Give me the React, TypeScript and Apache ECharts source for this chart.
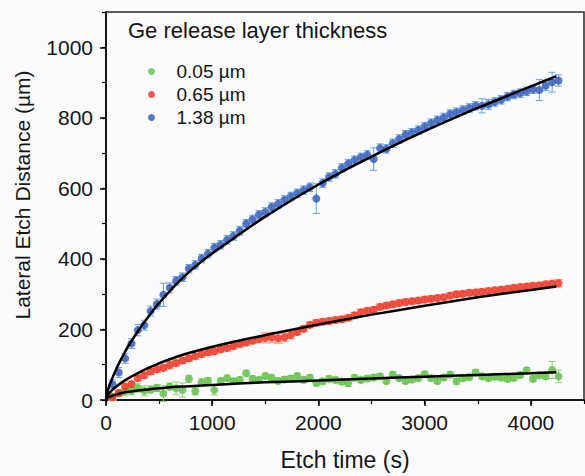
import React, { useEffect, useRef } from "react";
import * as echarts from "echarts";

const times = [
  60, 120, 180, 240, 300, 360, 420, 480, 540, 600,
  660, 720, 780, 840, 900, 960, 1020, 1080, 1140, 1200,
  1260, 1320, 1380, 1440, 1500, 1560, 1620, 1680, 1740, 1800,
  1860, 1920, 1980, 2040, 2100, 2160, 2220, 2280, 2340, 2400,
  2460, 2520, 2580, 2640, 2700, 2760, 2820, 2880, 2940, 3000,
  3060, 3120, 3180, 3240, 3300, 3360, 3420, 3480, 3540, 3600,
  3660, 3720, 3780, 3840, 3900, 3960, 4020, 4080, 4140, 4200,
  4260,
];

const blue = [
  45, 78, 118, 160, 198, 212, 252, 272, 298, 318,
  338, 348, 372, 383, 401, 415, 432, 440, 454, 465,
  480, 500, 512, 525, 533, 547, 556, 567, 577, 586,
  595, 603, 571, 615, 632, 641, 658, 670, 680, 688,
  695, 683, 714, 712, 728, 740, 752, 758, 765, 775,
  785, 793, 801, 811, 816, 822, 828, 834, 834, 838,
  845, 851, 860, 866, 870, 875, 881, 879, 891, 901,
  906,
];
const blueErr = [
  12, 14, 14, 14, 16, 14, 14, 14, 33, 14,
  12, 12, 12, 12, 12, 12, 12, 12, 12, 12,
  12, 12, 12, 12, 12, 12, 12, 12, 12, 12,
  12, 12, 42, 12, 12, 12, 12, 12, 12, 12,
  12, 32, 12, 12, 12, 12, 12, 12, 12, 12,
  12, 12, 12, 12, 12, 12, 12, 12, 20, 14,
  12, 12, 12, 12, 12, 12, 12, 30, 14, 28,
  16,
];

const red = [
  8, 20, 38, 45, 62, 70, 81, 87, 91, 99,
  105, 112, 118, 124, 130, 135, 138, 144, 147, 153,
  159, 163, 168, 172, 176, 177, 175, 178, 184, 193,
  202, 213, 219, 222, 224, 227, 229, 233, 240, 249,
  253, 256, 264, 268, 271, 275, 278, 280, 282, 285,
  287, 289, 291, 296, 300, 301, 304, 305, 307, 309,
  311, 313, 315, 318, 320, 322, 324, 325, 328, 330,
  331,
];
const redErr = [
  8, 8, 8, 8, 8, 8, 8, 8, 8, 10,
  8, 8, 8, 8, 8, 8, 8, 8, 8, 8,
  8, 8, 8, 8, 14, 14, 14, 12, 10, 8,
  8, 8, 8, 8, 8, 8, 8, 8, 8, 8,
  8, 8, 8, 8, 8, 8, 8, 8, 8, 8,
  8, 8, 8, 8, 8, 8, 8, 8, 8, 8,
  8, 8, 8, 8, 8, 8, 8, 8, 8, 8,
  10,
];

const green = [
  10, 18, 24, 27, 34, 26, 30, 34, 18, 38,
  33, 28, 60, 25, 50, 54, 28, 54, 62, 53,
  57, 76, 60, 57, 68, 63, 54, 58, 61, 68,
  57, 63, 48, 53, 60, 57, 52, 48, 63, 57,
  61, 64, 67, 54, 72, 62, 54, 58, 62, 73,
  62, 54, 64, 72, 53, 62, 65, 78, 67, 62,
  66, 64, 60, 63, 71, 84, 60, 70, 67, 85,
  67,
];
const greenErr = [
  6, 8, 10, 12, 12, 14, 10, 10, 22, 10,
  18, 20, 10, 10, 10, 10, 14, 8, 8, 8,
  8, 8, 8, 8, 8, 8, 8, 8, 8, 8,
  8, 8, 8, 8, 8, 8, 8, 10, 8, 8,
  8, 8, 8, 8, 8, 8, 8, 8, 8, 8,
  8, 8, 8, 8, 8, 8, 8, 8, 8, 8,
  8, 8, 8, 8, 8, 8, 8, 8, 8, 24,
  18,
];

const fitTimes = [0, 20, 50, 100, 150, 200, 250, 300, 400, 500, 700, 900, 1200, 1500, 2000, 2500, 3000, 3500, 4000, 4240];
const fitBlue = [0, 30, 55, 90, 120, 148, 172, 195, 237, 275, 340, 393, 458, 520, 611, 690, 762, 828, 889, 918];
const fitRed = [0, 15, 26, 39, 50, 60, 68, 76, 91, 104, 126, 143, 165, 184, 214, 242, 267, 291, 312, 322];
const fitGreen = [0, 7, 11, 16, 20, 23, 25, 27, 30, 33, 38, 41, 46, 50, 55, 61, 66, 71, 76, 79];

const seriesNames = ["0.05 µm", "0.65 µm", "1.38 µm"];
const legendTitle = "Ge release layer thickness";
const xTitle = "Etch time (s)";
const yTitle = "Lateral Etch Distance (µm)";

const FONT = "'Liberation Sans', Arial, Helvetica, sans-serif";
const TXT = "#151515";

function errSeries(name: string, vals: number[], errs: number[], color: string, w: number, lw: number) {
  return {
    type: "custom",
    name,
    silent: true,
    z: 2,
    data: times.map((t, i) => [t, vals[i], errs[i]]),
    encode: { x: 0, y: 1 },
    renderItem: (_params: any, api: any) => {
      const t = api.value(0);
      const v = api.value(1);
      const e = api.value(2);
      const p1 = api.coord([t, v + e]);
      const p2 = api.coord([t, v - e]);
      const st = { stroke: color, lineWidth: lw };
      return {
        type: "group",
        children: [
          { type: "line", shape: { x1: p1[0], y1: p1[1], x2: p2[0], y2: p2[1] }, style: st },
          { type: "line", shape: { x1: p1[0] - w, y1: p1[1], x2: p1[0] + w, y2: p1[1] }, style: st },
          { type: "line", shape: { x1: p2[0] - w, y1: p2[1], x2: p2[0] + w, y2: p2[1] }, style: st },
        ],
      };
    },
  };
}

function pointSeries(name: string, vals: number[], color: string) {
  return {
    type: "scatter",
    name,
    z: 3,
    symbol: "circle",
    symbolSize: 8,
    itemStyle: { color },
    data: times.map((t, i) => [t, vals[i]]),
  };
}

function fitSeries(name: string, vals: number[]) {
  return {
    type: "line",
    name,
    z: 4,
    silent: true,
    smooth: 0.3,
    showSymbol: false,
    symbol: "none",
    lineStyle: { color: "#000", width: 2.5 },
    data: fitTimes.map((t, i) => [t, vals[i]]),
  };
}

const plain = (v: number) => String(v);

export default function App() {
  const ref = useRef<HTMLDivElement>(null);
  useEffect(() => {
    if (!ref.current) return;
    const chart = echarts.init(ref.current, null, { renderer: "svg" });
    const axisLineStyle = { color: "#000", width: 1.5 };
    chart.setOption({
      animation: false,
      backgroundColor: "#fbfbfd",
      textStyle: { fontFamily: FONT },
      title: {
        text: legendTitle,
        left: 128,
        top: 19,
        padding: 0,
        textStyle: { fontSize: 22, fontWeight: "normal", color: TXT, fontFamily: FONT },
      },
      legend: {
        data: seriesNames,
        orient: "vertical",
        left: 148,
        top: 62,
        padding: 0,
        itemWidth: 40,
        itemHeight: 7,
        itemGap: 4,
        selectedMode: false,
        textStyle: { fontSize: 19, color: TXT, fontFamily: FONT },
      },
      grid: {
        left: 106,
        right: 1,
        top: 12,
        bottom: 74,
        show: true,
        borderColor: "#2a2a2a",
        borderWidth: 1.5,
        backgroundColor: "transparent",
      },
      xAxis: [
        {
          type: "value",
          min: 0,
          max: 4500,
          interval: 1000,
          position: "bottom",
          axisLine: { show: true, onZero: false, lineStyle: axisLineStyle },
          axisTick: { show: true, inside: false, length: 6, lineStyle: axisLineStyle },
          axisLabel: { fontSize: 21, color: TXT, margin: 12, fontFamily: FONT, showMaxLabel: false, formatter: plain },
          splitLine: { show: false },
          name: xTitle,
          nameLocation: "middle",
          nameGap: 48,
          nameTextStyle: { fontSize: 23, color: TXT, fontFamily: FONT },
        },
        {
          type: "value",
          min: 0,
          max: 4500,
          interval: 500,
          position: "bottom",
          axisLine: { show: false, onZero: false },
          axisTick: { show: true, inside: false, length: 4, lineStyle: { color: "#000", width: 1.2 } },
          axisLabel: { show: false },
          splitLine: { show: false },
        },
      ],
      yAxis: [
        {
          type: "value",
          min: 0,
          max: 1100,
          interval: 200,
          position: "left",
          axisLine: { show: true, onZero: false, lineStyle: axisLineStyle },
          axisTick: { show: true, inside: false, length: 6, lineStyle: axisLineStyle },
          axisLabel: { fontSize: 21, color: TXT, margin: 13, fontFamily: FONT, showMaxLabel: false, formatter: plain },
          splitLine: { show: false },
        },
        {
          type: "value",
          min: 0,
          max: 1100,
          interval: 100,
          position: "left",
          axisLine: { show: false, onZero: false },
          axisTick: { show: true, inside: false, length: 4, lineStyle: { color: "#000", width: 1.2 } },
          axisLabel: { show: false },
          splitLine: { show: false },
        },
      ],
      graphic: [
        {
          type: "text",
          x: 22,
          y: 195,
          rotation: Math.PI / 2,
          style: {
            text: yTitle,
            fontSize: 21,
            fontFamily: FONT,
            fill: TXT,
            align: "center",
            verticalAlign: "middle",
            textAlign: "center",
            textVerticalAlign: "middle",
          },
        },
      ],
      series: [
        errSeries("err-green", green, greenErr, "#8fd277", 3.5, 1),
        errSeries("err-red", red, redErr, "#f7ab96", 4.5, 1.6),
        errSeries("err-blue", blue, blueErr, "#68a2e2", 3.5, 1),
        pointSeries(seriesNames[0], green, "#5cbf41"),
        pointSeries(seriesNames[1], red, "#ec2f21"),
        pointSeries(seriesNames[2], blue, "#2c57b8"),
        fitSeries("fit-green", fitGreen),
        fitSeries("fit-red", fitRed),
        fitSeries("fit-blue", fitBlue),
      ],
    });
    return () => chart.dispose();
  }, []);
  return (
    <div
      ref={ref}
      style={{ position: "absolute", left: 0, top: 0, width: 585, height: 476 }}
    />
  );
}
